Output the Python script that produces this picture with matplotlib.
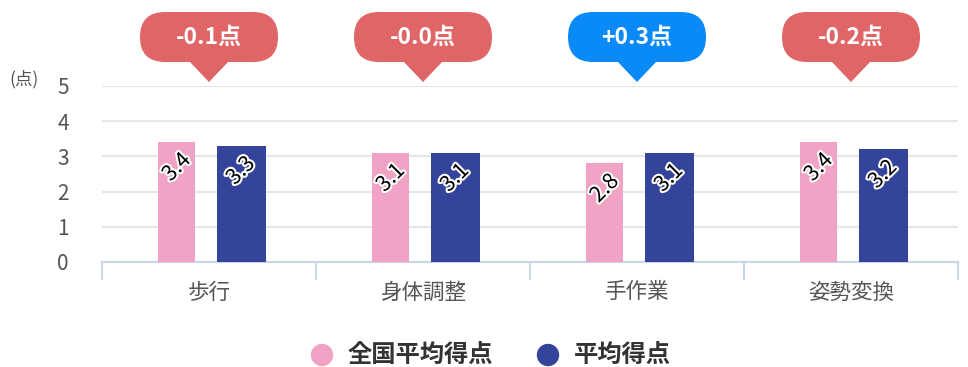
import numpy as np
import matplotlib.pyplot as plt
from matplotlib.patches import FancyBboxPatch, Polygon
from matplotlib.transforms import IdentityTransform
import matplotlib.patheffects as pe

plt.rcParams['font.family'] = ['Noto Sans CJK JP', 'DejaVu Sans']

categorias = ['歩行', '身体調整', '手作業', '姿勢変換']
nacional = [3.4, 3.1, 2.8, 3.4]
propio = [3.3, 3.1, 3.1, 3.2]
diferencias = ['-0.1点', '-0.0点', '+0.3点', '-0.2点']
series = ['全国平均得点', '平均得点']

ROSA = '#F0A3C4'
AZUL = '#34449A'
ROJO = '#DF6566'
CELESTE = '#0A8AF7'
EJE = '#ccd6eb'

W, H = 968, 367
fig = plt.figure(figsize=(W / 100, H / 100), dpi=100)
ax = fig.add_axes([102 / W, 1 - 262 / H, 856 / W, 176 / H])

x = np.arange(len(categorias))
ax.bar(x - 0.15, nacional, width=0.173, color=ROSA, zorder=3)
ax.bar(x + 0.15, propio, width=0.229, color=AZUL, zorder=3)

# etiquetas de valor giradas dentro de la barra
borde = [pe.withStroke(linewidth=3, foreground='white')]
for xs, vals in ((x - 0.15, nacional), (x + 0.15, propio)):
    for xi, v in zip(xs, vals):
        ax.annotate(f'{v:.1f}', (xi, v), xytext=(0, -18), textcoords='offset points',
                    ha='center', va='center', rotation=45, fontsize=15.5,
                    color='black', path_effects=borde, zorder=5)

ax.set_xlim(-0.5, 3.5)
ax.set_ylim(0, 5)
ax.set_yticks(range(6))
ax.set_xticks(x)
ax.set_xticklabels(categorias)
ax.set_xticks(np.arange(-0.5, 4, 1), minor=True)
ax.tick_params(axis='y', length=0, pad=24, labelsize=15, labelcolor='#555555')
ax.tick_params(axis='x', which='major', length=0, pad=14, labelsize=15.5, labelcolor='#555555')
ax.tick_params(axis='x', which='minor', length=13, width=1.5, color=EJE)
ax.grid(axis='y', color='#e6e6e6', linewidth=1.5, zorder=0)
for s in ('top', 'right', 'left'):
    ax.spines[s].set_visible(False)
ax.spines['bottom'].set_color(EJE)
ax.spines['bottom'].set_linewidth(1.5)

fig.text(9 / W, 1 - 79 / H, '(点)', fontsize=12.5, color='#555555', va='center')

# globos con la diferencia de puntos (coordenadas en píxeles)
for xi, txt in zip(x, diferencias):
    cx = ax.transData.transform((xi, 0))[0]
    col = CELESTE if txt.startswith('+') else ROJO
    globo = FancyBboxPatch((cx - 69, H - 62), 138, 50,
                           boxstyle='round,pad=0,rounding_size=25',
                           transform=IdentityTransform(), color=col, lw=0)
    fig.patches.append(globo)
    punta = Polygon([(cx - 20, H - 61), (cx + 20, H - 61), (cx, H - 82)],
                    closed=True, transform=IdentityTransform(), color=col, lw=0)
    fig.patches.append(punta)
    fig.text(cx / W, 1 - 37 / H, txt, ha='center', va='center', color='white',
             fontsize=16.5, fontweight='bold')

# leyenda
for px, col, nombre in ((322, ROSA, series[0]), (548, AZUL, series[1])):
    fig.patches.append(plt.Circle((px, H - 355), 10.5, color=col,
                                  transform=IdentityTransform()))
    fig.text((px + 26) / W, 1 - 355 / H, nombre, ha='left', va='center',
             fontsize=17.5, fontweight='bold', color='#333333')

fig.savefig('out.png', dpi=100)
